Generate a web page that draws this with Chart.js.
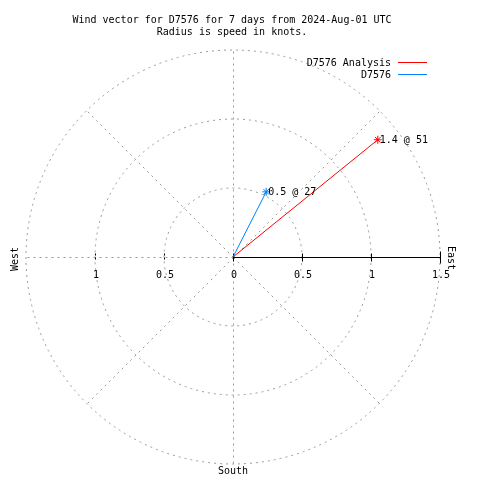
<!DOCTYPE html>
<html>
<head>
    <script src="https://cdn.jsdelivr.net/npm/chart.js@4.4.1/dist/chart.umd.min.js"></script>
    <style>
        body { margin: 0; background: #fff; }
    </style>
</head>
<body>
    <canvas id="myChart" width="480" height="480"></canvas>

    <script type="text/javascript">
        // series: speed in knots, direction in degrees from north
        const seriesNames = ['D7576 Analysis', 'D7576'];
        const speeds = [1.35, 0.53];
        const directions = [51, 27];
        const pointLabels = ['1.4 @ 51', '0.5 @ 27'];
        const seriesColors = ['rgb(255,0,0)', 'rgb(0,128,255)'];

        // rings and tick labels
        const ringValues = [0.5, 1, 1.5];
        const eastTicks = [0, 0.5, 1, 1.5];
        const eastTickLabels = ['0', '0.5', '1', '1.5'];
        const westTicks = [0.5, 1];
        const westTickLabels = ['0.5', '1'];
        const spokeAngles = [0, 45, 135, 180, 225, 270, 315];

        const titleLines = ['Wind vector for D7576 for 7 days from 2024-Aug-01 UTC', 'Radius is speed in knots.'];

        const FONT = '10px "DejaVu Sans Mono", "Liberation Mono", monospace';
        const GRID = '#999999';

        function toXY(speed, dir) {
            const a = dir * Math.PI / 180;
            return { x: speed * Math.sin(a), y: speed * Math.cos(a) };
        }

        const datasets = seriesNames.map((name, i) => ({
            label: name,
            data: [{ x: 0, y: 0 }, toXY(speeds[i], directions[i])],
            showLine: true,
            borderColor: seriesColors[i],
            borderWidth: 1,
            pointStyle: 'star',
            pointRadius: [0, 4],
            pointBorderColor: seriesColors[i],
            pointBorderWidth: 1,
            backgroundColor: seriesColors[i],
            clip: false
        }));

        const polarPlugin = {
            id: 'polarPlugin',
            beforeDatasetsDraw(chart) {
                const ctx = chart.ctx;
                const xs = chart.scales.x, ys = chart.scales.y;
                const px = (x, y) => [xs.getPixelForValue(x), ys.getPixelForValue(y)];
                const [cx, cy] = px(0, 0);
                const rx = xs.getPixelForValue(1) - cx;
                const ry = cy - ys.getPixelForValue(1);
                const outer = ringValues[ringValues.length - 1];

                ctx.save();
                ctx.strokeStyle = GRID;
                ctx.lineWidth = 1;
                ctx.setLineDash([2, 4]);
                ringValues.forEach(r => {
                    ctx.beginPath();
                    ctx.ellipse(cx, cy, r * rx, r * ry, 0, 0, Math.PI * 2);
                    ctx.stroke();
                });
                spokeAngles.forEach(a => {
                    const p = toXY(outer, a);
                    const [ex, ey] = px(p.x, p.y);
                    ctx.beginPath();
                    ctx.moveTo(Math.round(cx) + 0.5, Math.round(cy) + 0.5);
                    ctx.lineTo(Math.round(ex) + 0.5, Math.round(ey) + 0.5);
                    ctx.stroke();
                });

                // east axis, solid
                ctx.setLineDash([]);
                ctx.strokeStyle = '#000';
                const yl = Math.round(cy) + 0.5;
                ctx.beginPath();
                ctx.moveTo(cx, yl);
                ctx.lineTo(xs.getPixelForValue(outer), yl);
                ctx.stroke();
                eastTicks.forEach(v => {
                    const tx = Math.round(xs.getPixelForValue(v)) + 0.5;
                    const h = v === outer ? 6 : 4;
                    ctx.beginPath();
                    ctx.moveTo(tx, yl - h);
                    ctx.lineTo(tx, yl + h);
                    ctx.stroke();
                });
                ctx.setLineDash([2, 2]);
                westTicks.forEach(v => {
                    const tx = Math.round(xs.getPixelForValue(-v)) + 0.5;
                    ctx.beginPath();
                    ctx.moveTo(tx, yl - 4);
                    ctx.lineTo(tx, yl + 4);
                    ctx.stroke();
                });

                // tick labels
                ctx.fillStyle = '#000';
                ctx.font = FONT;
                ctx.textAlign = 'center';
                ctx.textBaseline = 'middle';
                eastTicks.forEach((v, i) => {
                    ctx.fillText(eastTickLabels[i], xs.getPixelForValue(v) + 1, cy + 18);
                });
                westTicks.forEach((v, i) => {
                    ctx.fillText(westTickLabels[i], xs.getPixelForValue(-v) + 1, cy + 18);
                });

                // compass labels
                ctx.save();
                ctx.translate(xs.getPixelForValue(-outer) - 11, cy + 2);
                ctx.rotate(-Math.PI / 2);
                ctx.fillText('West', 0, 0);
                ctx.restore();
                ctx.save();
                ctx.translate(xs.getPixelForValue(outer) + 11, cy + 1);
                ctx.rotate(Math.PI / 2);
                ctx.fillText('East', 0, 0);
                ctx.restore();
                ctx.fillText('South', cx, ys.getPixelForValue(-outer) + 7);
                ctx.restore();
            },
            afterDraw(chart) {
                const ctx = chart.ctx;
                ctx.save();
                ctx.fillStyle = '#000';
                ctx.font = FONT;
                ctx.textBaseline = 'middle';

                // title
                ctx.textAlign = 'center';
                ctx.fillText(titleLines[0], 232, 20);
                ctx.fillText(titleLines[1], 232, 32);

                // legend
                ctx.textAlign = 'right';
                seriesNames.forEach((name, i) => {
                    const y = 63 + i * 12;
                    ctx.fillStyle = '#000';
                    ctx.fillText(name, 391, y);
                    ctx.strokeStyle = seriesColors[i];
                    ctx.lineWidth = 1;
                    ctx.beginPath();
                    ctx.moveTo(398, Math.round(y) - 0.5);
                    ctx.lineTo(427, Math.round(y) - 0.5);
                    ctx.stroke();
                });

                // point labels
                ctx.textAlign = 'left';
                ctx.fillStyle = '#000';
                chart.data.datasets.forEach((ds, i) => {
                    const el = chart.getDatasetMeta(i).data[1];
                    ctx.fillText(pointLabels[i], el.x + 2, el.y + 1);
                });
                ctx.restore();
            }
        };

        // centre of the rose sits at (233, 257), 138 px per knot
        const config = {
            type: 'scatter',
            data: { datasets: datasets },
            options: {
                responsive: false,
                animation: false,
                layout: { padding: 0, autoPadding: false },
                plugins: {
                    legend: { display: false },
                    title: { display: false },
                    tooltip: { enabled: false }
                },
                scales: {
                    x: { type: 'linear', min: -233 / 138, max: 247 / 138, display: false },
                    y: { type: 'linear', min: -223 / 138, max: 257 / 138, display: false }
                }
            },
            plugins: [polarPlugin]
        };

        const chart = new Chart(document.getElementById('myChart'), config);
    </script>
</body>
</html>
